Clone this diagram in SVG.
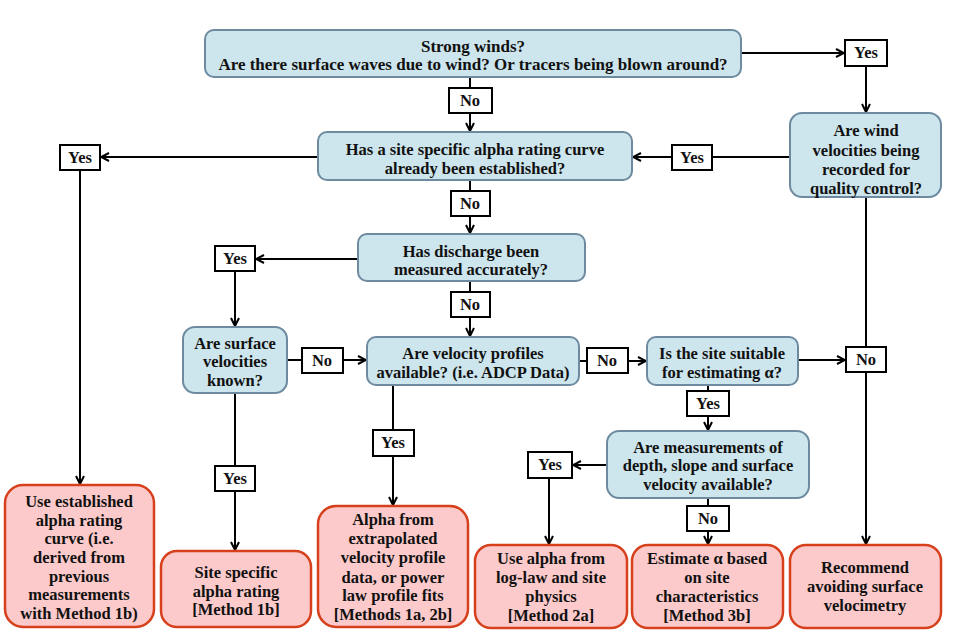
<svg xmlns="http://www.w3.org/2000/svg" width="958" height="641" viewBox="0 0 958 641">
<defs>
<marker id="arr" viewBox="0 0 10 10" refX="9" refY="5" markerWidth="5" markerHeight="5" orient="auto" markerUnits="strokeWidth">
<path d="M1,1 L9,5 L1,9" fill="none" stroke="#000" stroke-width="2"/>
</marker>
<style>
.q{fill:#cde5ec;stroke:#6d8aa0;stroke-width:2}
.r{fill:#fccaca;stroke:#d6401c;stroke-width:2.5}
.l{fill:#fff;stroke:#000;stroke-width:2}
.c{fill:none;stroke:#000;stroke-width:2}
.a{fill:none;stroke:#000;stroke-width:2;marker-end:url(#arr)}
text{font-family:"Liberation Serif","DejaVu Serif",serif;font-weight:bold;font-size:16.5px;fill:#111;text-anchor:middle}
.t{font-size:17px}
</style>
</defs>
<rect width="958" height="641" fill="#fff"/>
<g id="connectors">
<path class="a" d="M741,53 H844"/>
<path class="a" d="M866,66 V112"/>
<path class="c" d="M790,157 H712"/>
<path class="a" d="M672,157 H633"/>
<path class="c" d="M866,197 V347"/>
<path class="a" d="M866,372 V544"/>
<path class="c" d="M470,77 V88"/>
<path class="a" d="M470,113 V131"/>
<path class="a" d="M318,157 H101"/>
<path class="a" d="M80,170 V484"/>
<path class="c" d="M470,180 V191"/>
<path class="a" d="M470,216 V233"/>
<path class="a" d="M358,259 H256"/>
<path class="a" d="M235,271 V326"/>
<path class="c" d="M470,281 V292"/>
<path class="a" d="M470,317 V336"/>
<path class="c" d="M287,360 H302"/>
<path class="a" d="M343,360 H366"/>
<path class="c" d="M235,393 V466"/>
<path class="a" d="M235,491 V550"/>
<path class="c" d="M579,361 H587"/>
<path class="a" d="M628,361 H646"/>
<path class="c" d="M393,385 V430"/>
<path class="a" d="M393,456 V505"/>
<path class="a" d="M798,360 H845"/>
<path class="c" d="M708,385 V391"/>
<path class="a" d="M708,416 V430"/>
<path class="a" d="M607,465 H573"/>
<path class="a" d="M549,478 V544"/>
<path class="c" d="M708,498 V506"/>
<path class="a" d="M708,531 V544"/>
</g>
<g id="n_wind">
<rect class="q" x="205" y="30" width="536" height="47" rx="9"/>
<text class="t" x="473" y="52">Strong winds?</text>
<text class="t" x="473" y="70">Are there surface waves due to wind? Or tracers being blown around?</text>
</g>
<g id="l_yes1"><rect class="l" x="845" y="40" width="42" height="26"/><text x="866" y="58">Yes</text></g>
<g id="l_no1"><rect class="l" x="449" y="88" width="43" height="25"/><text x="470" y="106">No</text></g>
<g id="n_windrec">
<rect class="q" x="790" y="113" width="151" height="84" rx="12"/>
<text x="866" y="136">Are wind</text>
<text x="866" y="156">velocities being</text>
<text x="866" y="175">recorded for</text>
<text x="866" y="194">quality control?</text>
</g>
<g id="l_yes2"><rect class="l" x="672" y="145" width="40" height="25"/><text x="692" y="163">Yes</text></g>
<g id="n_alpha">
<rect class="q" x="318" y="132" width="314" height="48" rx="9"/>
<text x="475" y="155">Has a site specific alpha rating curve</text>
<text x="475" y="174">already been established?</text>
</g>
<g id="l_yes3"><rect class="l" x="60" y="145" width="40" height="25"/><text x="80" y="163">Yes</text></g>
<g id="l_no2"><rect class="l" x="451" y="191" width="39" height="25"/><text x="470" y="209">No</text></g>
<g id="n_discharge">
<rect class="q" x="358" y="234" width="227" height="47" rx="9"/>
<text x="471" y="257">Has discharge been</text>
<text x="471" y="275">measured accurately?</text>
</g>
<g id="l_yes4"><rect class="l" x="215" y="246" width="40" height="25"/><text x="235" y="264">Yes</text></g>
<g id="l_no3"><rect class="l" x="451" y="292" width="39" height="25"/><text x="470" y="310">No</text></g>
<g id="n_surface">
<rect class="q" x="183" y="327" width="104" height="66" rx="12"/>
<text x="235" y="349">Are surface</text>
<text x="235" y="367">velocities</text>
<text x="235" y="386">known?</text>
</g>
<g id="l_no4"><rect class="l" x="302" y="348" width="41" height="25"/><text x="322" y="366">No</text></g>
<g id="n_profiles">
<rect class="q" x="367" y="337" width="212" height="48" rx="9"/>
<text x="473" y="359">Are velocity profiles</text>
<text x="473" y="378">available? (i.e. ADCP Data)</text>
</g>
<g id="l_no5"><rect class="l" x="587" y="348" width="41" height="25"/><text x="607" y="366">No</text></g>
<g id="n_suitable">
<rect class="q" x="647" y="337" width="151" height="48" rx="9"/>
<text x="722" y="359">Is the site suitable</text>
<text x="722" y="378">for estimating α?</text>
</g>
<g id="l_no6"><rect class="l" x="846" y="347" width="40" height="25"/><text x="866" y="365">No</text></g>
<g id="l_yes5"><rect class="l" x="373" y="430" width="41" height="26"/><text x="393" y="448">Yes</text></g>
<g id="l_yes6"><rect class="l" x="687" y="391" width="42" height="25"/><text x="708" y="409">Yes</text></g>
<g id="n_measure">
<rect class="q" x="607" y="431" width="202" height="67" rx="12"/>
<text x="708" y="453">Are measurements of</text>
<text x="708" y="471">depth, slope and surface</text>
<text x="708" y="490">velocity available?</text>
</g>
<g id="l_yes7"><rect class="l" x="528" y="452" width="44" height="26"/><text x="550" y="470">Yes</text></g>
<g id="l_yes8"><rect class="l" x="215" y="466" width="40" height="25"/><text x="235" y="484">Yes</text></g>
<g id="l_no7"><rect class="l" x="687" y="506" width="42" height="25"/><text x="708" y="524">No</text></g>
<g id="n_useestablished">
<rect class="r" x="5" y="485" width="149" height="142" rx="18"/>
<text x="79" y="507">Use established</text>
<text x="79" y="526">alpha rating</text>
<text x="79" y="544">curve (i.e.</text>
<text x="79" y="563">derived from</text>
<text x="79" y="582">previous</text>
<text x="79" y="600">measurements</text>
<text x="79" y="619">with Method 1b)</text>
</g>
<g id="n_sitespecific">
<rect class="r" x="161" y="551" width="150" height="76" rx="16"/>
<text x="236" y="578">Site specific</text>
<text x="236" y="597">alpha rating</text>
<text x="236" y="615">[Method 1b]</text>
</g>
<g id="n_alphafrom">
<rect class="r" x="318" y="506" width="150" height="121" rx="18"/>
<text x="393" y="525">Alpha from</text>
<text x="393" y="544">extrapolated</text>
<text x="393" y="563">velocity profile</text>
<text x="393" y="583">data, or power</text>
<text x="393" y="601">law profile fits</text>
<text x="393" y="620">[Methods 1a, 2b]</text>
</g>
<g id="n_usealpha">
<rect class="r" x="475" y="545" width="152" height="83" rx="16"/>
<text x="551" y="564">Use alpha from</text>
<text x="551" y="583">log-law and site</text>
<text x="551" y="602">physics</text>
<text x="551" y="621">[Method 2a]</text>
</g>
<g id="n_estimate">
<rect class="r" x="632" y="545" width="151" height="83" rx="16"/>
<text x="707" y="564">Estimate α based</text>
<text x="707" y="583">on site</text>
<text x="707" y="602">characteristics</text>
<text x="707" y="621">[Method 3b]</text>
</g>
<g id="n_recommend">
<rect class="r" x="790" y="545" width="151" height="83" rx="16"/>
<text x="865" y="573">Recommend</text>
<text x="865" y="592">avoiding surface</text>
<text x="865" y="611">velocimetry</text>
</g>
</svg>
